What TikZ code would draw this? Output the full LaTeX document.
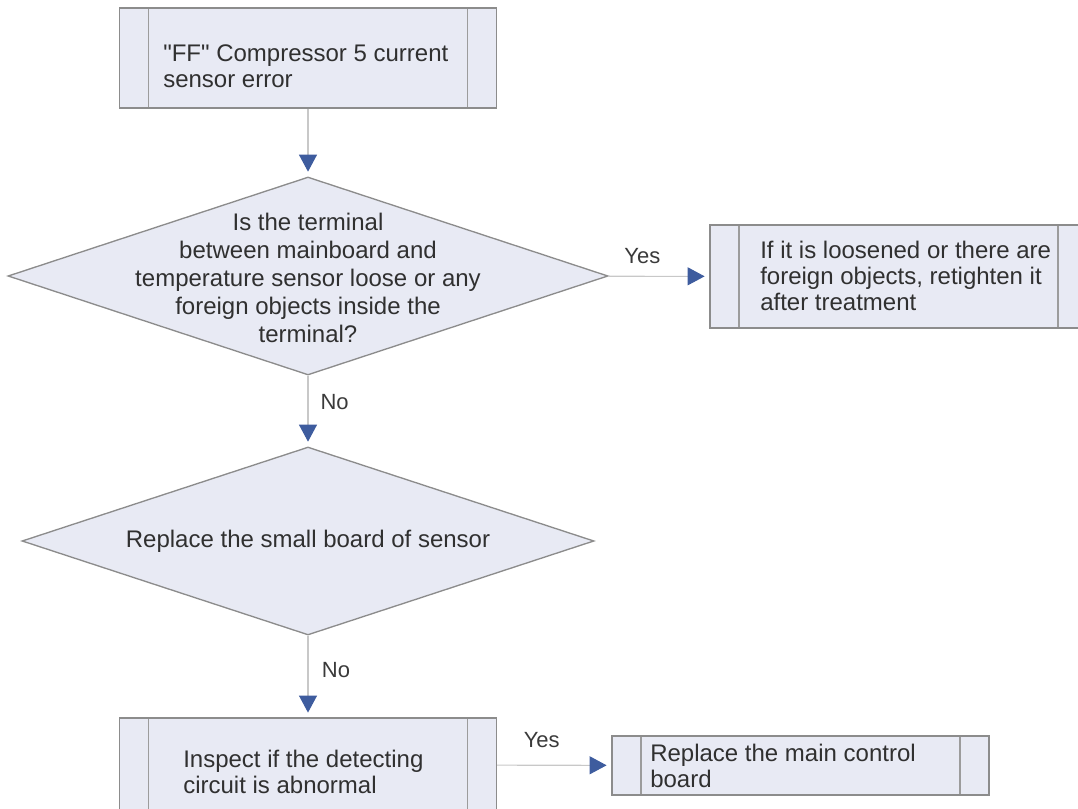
\documentclass[tikz,border=0pt]{standalone}
\usepackage{fontspec}
\setmainfont{Liberation Sans}[Ligatures=TeXOff]
\usetikzlibrary{shapes.geometric,arrows.meta}
\definecolor{boxfill}{HTML}{E8EAF4}
\definecolor{boxline}{HTML}{8C8C8C}
\definecolor{innerline}{HTML}{9C9C9C}
\definecolor{connline}{HTML}{C8C8C8}
\definecolor{tipblue}{HTML}{3E5C9E}
\definecolor{txtcol}{HTML}{303030}
\definecolor{lblcol}{HTML}{3A3A3A}
\tikzset{
  procbox/.style={rectangle, draw=boxline, line width=1.1pt, fill=boxfill,
    inner sep=0pt, minimum width=282.75pt,
    path picture={
      \draw[innerline, line width=1pt]
        ([xshift=21.75pt]path picture bounding box.north west) --
        ([xshift=21.75pt]path picture bounding box.south west);
      \draw[innerline, line width=1pt]
        ([xshift=-21.75pt]path picture bounding box.north east) --
        ([xshift=-21.75pt]path picture bounding box.south east);
    }},
  decision/.style={diamond, draw=boxline, line width=1pt, fill=boxfill,
    inner sep=0pt, aspect=3},
  boxtext/.style={align=left, text=txtcol, inner sep=0pt,
    font=\fontsize{18}{19.5}\selectfont},
  dectext/.style={align=center, text=txtcol, inner sep=0pt,
    font=\fontsize{18}{21}\selectfont},
  conn/.style={draw=connline, line width=0.8pt, shorten >=3.5pt,
    -{Triangle[length=12.75pt,width=13.5pt,color=tipblue]}},
  lbl/.style={text=lblcol, inner sep=0pt, font=\fontsize{16.5}{18}\selectfont},
}
\begin{document}
\begin{tikzpicture}[x=0.75pt,y=-0.75pt]
\useasboundingbox (0,0) rectangle (1078,809);

% shapes
\node[procbox, minimum height=75pt] (b1) at (308,58) {};
\node[decision, minimum width=450pt, minimum height=148.5pt] (d1) at (308,276) {};
\node[procbox, minimum height=77.25pt] (b2) at (898.5,276.5) {};
\node[decision, minimum width=429pt, minimum height=141pt] (d2) at (308,541) {};
\node[procbox, minimum height=70.5pt] (b3) at (308,765) {};
\node[procbox, minimum height=44.25pt] (b4) at (800.5,765.5) {};

% texts
\node[boxtext, anchor=west] (t1) at (163,66) {"FF" Compressor 5 current\\sensor error};
\node[dectext] (t2) at (308,278) {Is the terminal\\between mainboard and\\temperature sensor loose or any\\foreign objects inside the\\terminal?};
\node[boxtext, anchor=west] (t3) at (760,276) {If it is loosened or there are\\foreign objects, retighten it\\after treatment};
\node[dectext] (t4) at (308,541) {Replace the small board of sensor};
\node[boxtext, anchor=west] (t5) at (183,772) {Inspect if the detecting\\circuit is abnormal};
\node[boxtext, anchor=west] (t6) at (650,766) {Replace the main control\\board};

% connectors
\draw[conn] (b1) -- (d1);
\draw[conn] (d1) -- node[lbl, pos=0.34, yshift=15pt] {Yes} (b2);
\draw[conn] (d1) -- node[lbl, pos=0.375, xshift=20pt] {No} (d2);
\draw[conn] (d2) -- node[lbl, pos=0.42, xshift=21pt] {No} (b3);
\draw[conn] (b3) -- node[lbl, pos=0.39, yshift=18.75pt] {Yes} (b4);
\end{tikzpicture}
\end{document}
